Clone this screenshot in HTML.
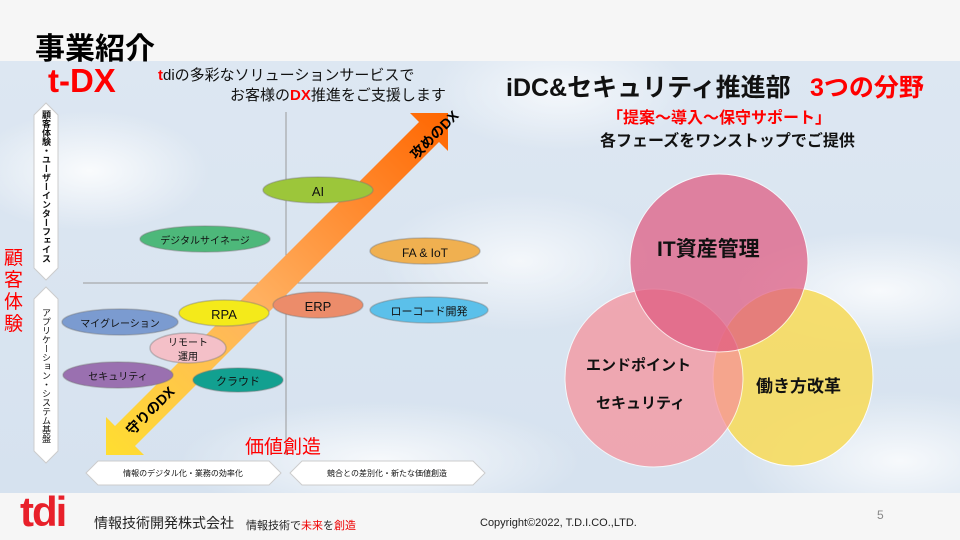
<!DOCTYPE html>
<html><head><meta charset="utf-8">
<style>
*{margin:0;padding:0;box-sizing:border-box}
body{width:960px;height:540px;overflow:hidden;position:relative;background:#f6f6f6;font-family:"Liberation Sans","Noto Sans CJK JP",sans-serif}
.sky{position:absolute;left:0;top:61px;width:960px;height:432px;
background:
radial-gradient(ellipse 120px 60px at 90px 110px,rgba(255,255,255,.85),rgba(255,255,255,0)),
radial-gradient(ellipse 140px 70px at 520px 200px,rgba(255,255,255,.7),rgba(255,255,255,0)),
radial-gradient(ellipse 160px 60px at 880px 230px,rgba(255,255,255,.8),rgba(255,255,255,0)),
radial-gradient(ellipse 200px 60px at 380px 400px,rgba(255,255,255,.8),rgba(255,255,255,0)),
radial-gradient(ellipse 160px 70px at 900px 400px,rgba(255,255,255,.8),rgba(255,255,255,0)),
radial-gradient(ellipse 130px 60px at 560px 30px,rgba(255,255,255,.7),rgba(255,255,255,0)),
linear-gradient(#dde7f2,#d6e2ef)}
.t{position:absolute;white-space:nowrap}
</style></head><body>
<div class="sky"></div>
<div class="t" style="left:35px;top:24px;font-size:30px;font-weight:bold;color:#000">事業紹介</div>
<div class="t" style="left:48px;top:62px;font-size:33px;font-weight:bold;color:#f00">t-DX</div>
<div class="t" style="left:158px;top:64px;font-size:15px;color:#111"><b style="color:#f00">t</b>diの多彩なソリューションサービスで</div>
<div class="t" style="left:230px;top:84px;font-size:15px;color:#111">お客様の<b style="color:#f00">DX</b>推進をご支援します</div>

<div class="t" style="left:4px;top:248px;font-size:19px;color:#f00;line-height:22px;width:22px;white-space:normal">顧客体験</div>

<svg style="position:absolute;left:0;top:0" width="960" height="540">
<defs>
<linearGradient id="ag" x1="106" y1="455" x2="448" y2="113" gradientUnits="userSpaceOnUse">
<stop offset="0" stop-color="#ffde30"/><stop offset=".45" stop-color="#ffb060"/><stop offset="1" stop-color="#ff6600"/>
</linearGradient>
</defs>
<line x1="286" y1="112" x2="286" y2="455" stroke="#9a9a9a" stroke-width="1"/>
<line x1="83" y1="283" x2="488" y2="283" stroke="#9a9a9a" stroke-width="1"/>
<polygon points="448,113 448,151 439,142 135,446 144,455 106,455 106,417 115,426 419,122 410,113" fill="url(#ag)"/>
<text transform="translate(416,160) rotate(-45)" font-size="14" font-weight="bold" fill="#000" font-family="Liberation Sans,Noto Sans CJK JP,sans-serif">攻めのDX</text>
<text transform="translate(132,436) rotate(-45)" font-size="14" font-weight="bold" fill="#000" font-family="Liberation Sans,Noto Sans CJK JP,sans-serif">守りのDX</text>
<g stroke="rgba(120,120,120,.4)" stroke-width="1.5">
<ellipse cx="318" cy="190" rx="55" ry="13" fill="#9cc63a"/>
<ellipse cx="205" cy="239" rx="65" ry="13" fill="#4db87a"/>
<ellipse cx="425" cy="251" rx="55" ry="13" fill="#f0b050"/>
<ellipse cx="120" cy="322" rx="58" ry="13" fill="#7b9bd0"/>
<ellipse cx="224" cy="313" rx="45" ry="13" fill="#f4ea1a"/>
<ellipse cx="318" cy="305" rx="45" ry="13" fill="#ec8c6a"/>
<ellipse cx="429" cy="310" rx="59" ry="13" fill="#5bc0ea"/>
<ellipse cx="188" cy="348" rx="38" ry="15" fill="#f4c0c8"/>
<ellipse cx="118" cy="375" rx="55" ry="13" fill="#9a70b0"/>
<ellipse cx="238" cy="380" rx="45" ry="12" fill="#12a090"/>
</g>
<g font-family="Liberation Sans,Noto Sans CJK JP,sans-serif" fill="#111" text-anchor="middle">
<text x="318" y="196" font-size="13">AI</text>
<text x="205" y="244" font-size="10">デジタルサイネージ</text>
<text x="425" y="257" font-size="12">FA &amp; IoT</text>
<text x="120" y="327" font-size="10">マイグレーション</text>
<text x="224" y="319" font-size="13">RPA</text>
<text x="318" y="311" font-size="13">ERP</text>
<text x="429" y="315" font-size="11">ローコード開発</text>
<text x="188" y="346" font-size="10">リモート</text>
<text x="188" y="360" font-size="10">運用</text>
<text x="118" y="380" font-size="10">セキュリティ</text>
<text x="238" y="385" font-size="11">クラウド</text>
</g>
<g fill="#fff" stroke="#ccc" stroke-width="1">
<polygon points="46,103 58,115 58,268 46,280 34,268 34,115"/>
<polygon points="46,287 58,299 58,451 46,463 34,451 34,299"/>
<polygon points="86,473 98,461 269,461 281,473 269,485 98,485"/>
<polygon points="290,473 302,461 473,461 485,473 473,485 302,485"/>
</g>
<g font-family="Liberation Sans,Noto Sans CJK JP,sans-serif" fill="#111" font-size="8">
<text x="183" y="476" text-anchor="middle">情報のデジタル化・業務の効率化</text>
<text x="387" y="476" text-anchor="middle">競合との差別化・新たな価値創造</text>
</g>
<g stroke="#fff" stroke-width="1">
<ellipse cx="793" cy="377" rx="80" ry="89" fill="#f7dc60" opacity=".9"/>
<circle cx="654" cy="378" r="89" fill="#f7909a" opacity=".72"/>
<circle cx="719" cy="263" r="89" fill="#e05a80" opacity=".72"/>
</g>
</svg>
<div class="t" style="left:38px;top:110px;width:16px;font-size:9px;font-weight:bold;writing-mode:vertical-rl;line-height:16px;color:#111">顧客体験・ユーザーインターフェイス</div>
<div class="t" style="left:38px;top:308px;width:16px;font-size:9px;writing-mode:vertical-rl;line-height:16px;color:#111">アプリケーション・システム基盤</div>
<div class="t" style="left:245px;top:432px;font-size:19px;color:#f00">価値創造</div>

<div class="t" style="left:506px;top:68px;font-size:25px;font-weight:bold;color:#111">iDC&amp;セキュリティ推進部</div>
<div class="t" style="left:810px;top:68px;font-size:25px;font-weight:bold;color:#f00">3つの分野</div>
<div class="t" style="left:607px;top:104px;font-size:16px;font-weight:bold;color:#f00">「提案～導入～保守サポート」</div>
<div class="t" style="left:600px;top:127px;font-size:16px;font-weight:bold;color:#111">各フェーズをワンストップでご提供</div>
<div class="t" style="left:657px;top:233px;font-size:21px;font-weight:bold;color:#111">IT資産管理</div>
<div class="t" style="left:586px;top:354px;font-size:15px;font-weight:bold;color:#111">エンドポイント</div>
<div class="t" style="left:596px;top:392px;font-size:15px;font-weight:bold;color:#111">セキュリティ</div>
<div class="t" style="left:756px;top:372px;font-size:17px;font-weight:bold;color:#111">働き方改革</div>

<div class="t" style="left:20px;top:490px;font-size:42px;font-weight:bold;color:#e8202a;letter-spacing:-2px;line-height:44px">tdi</div>
<div class="t" style="left:94px;top:513px;font-size:14px;color:#222">情報技術開発株式会社</div>
<div class="t" style="left:246px;top:517px;font-size:11px;color:#222">情報技術で<span style="color:#e00">未来</span>を<span style="color:#e00">創造</span></div>
<div class="t" style="left:480px;top:517px;font-size:11px;color:#222">Copyright©2022, T.D.I.CO.,LTD.</div>
<div class="t" style="left:877px;top:508px;font-size:12px;color:#888">5</div>
</body></html>
